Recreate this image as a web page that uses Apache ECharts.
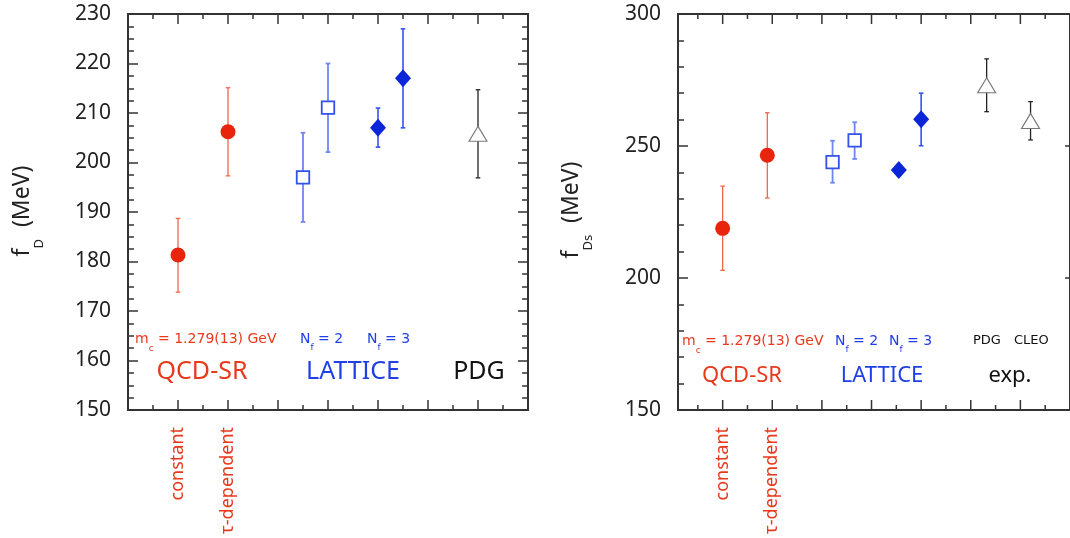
<!DOCTYPE html>
<html>
<head>
<meta charset="utf-8">
<script src="https://cdn.jsdelivr.net/npm/echarts@6.0.0/dist/echarts.min.js"></script>
<style>
  html, body { margin: 0; padding: 0; background: #fff; }
  #main { width: 1070px; height: 538px; }
</style>
</head>
<body>
<div id="main"></div>
<script>
var FONT = '"Noto Sans", sans-serif';
var SMALLFONT = '"DejaVu Sans", sans-serif';
var RED = '#e8391c', BLUE = '#2040e6', DARK = '#222';

// f_D panel (left)
var dX    = [2, 4, 7, 8, 10, 11, 14];
var dVal  = [181.3, 206.2, 197.0, 211.1, 207.0, 217.0, 205.8];
var dLow  = [173.8, 197.3, 188.0, 202.1, 203.1, 207.0, 196.9];
var dHigh = [188.7, 215.1, 206.0, 220.0, 211.0, 227.0, 214.7];
var dKind = ['sr', 'sr', 'nf2', 'nf2', 'nf3', 'nf3', 'exp'];

// f_Ds panel (right)
var sX    = [2, 3.8, 6.43, 7.32, 9.1, 10, 12.64, 14.41];
var sVal  = [218.8, 246.5, 243.9, 252.1, 240.9, 260.1, 273.0, 259.5];
var sLow  = [202.9, 230.3, 236.1, 245.1, 239.4, 250.1, 263.0, 252.3];
var sHigh = [234.8, 262.6, 252.0, 259.0, 242.4, 270.0, 283.0, 266.8];
var sKind = ['sr', 'sr', 'nf2', 'nf2', 'nf3', 'nf3', 'exp', 'exp'];

// x tick positions (top and bottom frame) and rotated labels at x = 2, 4
var xMajorTicks = [2, 4, 6, 8, 10, 12, 14];
var xMinorTicks = [1, 3, 5, 7, 9, 11, 13, 15];
var methodLabels = ['constant', 'τ-dependent'];

// marker / error bar look for each group
var kinds = {
    sr:  { symbol: 'circle',   size: 15,      fill: '#e8250c', border: '#e8250c', bw: 0,   bar: '#f0654e', barW: 1.3 },
    nf2: { symbol: 'rect',     size: 12.5,    fill: '#fff',    border: '#3352e8', bw: 1.8, bar: '#6d86f2', barW: 1.8 },
    nf3: { symbol: 'diamond',  size: [16, 18], fill: '#0b26d8', border: '#0b26d8', bw: 0,   bar: '#3553ea', barW: 1.6 },
    exp: { symbol: 'triangle', size: [18, 15], fill: '#fff',    border: '#777',    bw: 1.1, bar: '#222',    barW: 1.3 }
};

var chart = echarts.init(document.getElementById('main'));

// vertical error bar with small caps
function errorBar(width) {
    return function (params, api) {
        var x = api.value(0);
        var lo = api.coord([x, api.value(1)]);
        var hi = api.coord([x, api.value(2)]);
        var c = api.visual('color');
        var st = { stroke: c, lineWidth: width };
        return {
            type: 'group',
            children: [
                { type: 'line', shape: { x1: lo[0], y1: lo[1], x2: hi[0], y2: hi[1] }, style: st },
                { type: 'line', shape: { x1: lo[0] - 2.3, y1: lo[1], x2: lo[0] + 2.3, y2: lo[1] }, style: st },
                { type: 'line', shape: { x1: hi[0] - 2.3, y1: hi[1], x2: hi[0] + 2.3, y2: hi[1] }, style: st }
            ]
        };
    };
}

// inward tick marks on the bottom and top frame, placed through the x scale
function tickSeries(gi, yMin, yMax) {
    var data = [];
    xMajorTicks.forEach(function (v) { data.push([v, yMin, yMax, 10]); });
    xMinorTicks.forEach(function (v) { data.push([v, yMin, yMax, 5]); });
    return {
        type: 'custom',
        xAxisIndex: gi * 2,
        yAxisIndex: gi * 2,
        data: data,
        encode: { x: 0, y: [1, 2] },
        silent: true,
        clip: false,
        renderItem: function (params, api) {
            var b = api.coord([api.value(0), api.value(1)]);
            var t = api.coord([api.value(0), api.value(2)]);
            var len = api.value(3);
            var st = { stroke: '#333', lineWidth: 1.5 };
            return {
                type: 'group',
                children: [
                    { type: 'line', shape: { x1: b[0], y1: b[1], x2: b[0], y2: b[1] - len }, style: st },
                    { type: 'line', shape: { x1: t[0], y1: t[1], x2: t[0], y2: t[1] + len }, style: st }
                ]
            };
        }
    };
}

function buildSeries(xs, vals, lows, highs, kindArr, gi) {
    var out = [];
    Object.keys(kinds).forEach(function (k) {
        var err = [], pts = [];
        for (var i = 0; i < xs.length; i++) {
            if (kindArr[i] === k) {
                err.push([xs[i], lows[i], highs[i]]);
                pts.push([xs[i], vals[i]]);
            }
        }
        if (!pts.length) return;
        var s = kinds[k];
        out.push({
            type: 'custom',
            xAxisIndex: gi * 2,
            yAxisIndex: gi * 2,
            data: err,
            encode: { x: 0, y: [1, 2] },
            renderItem: errorBar(s.barW),
            itemStyle: { color: s.bar },
            silent: true
        });
        out.push({
            type: 'scatter',
            xAxisIndex: gi * 2,
            yAxisIndex: gi * 2,
            data: pts,
            symbol: s.symbol,
            symbolSize: s.size,
            itemStyle: { color: s.fill, borderColor: s.border, borderWidth: s.bw, opacity: 1 },
            silent: true
        });
    });
    return out;
}

var axisLine = { show: true, onZero: false, lineStyle: { color: '#333', width: 2 } };
var tickLine = { color: '#333', width: 1.5 };

// bottom + top x axis (frame lines and the two rotated labels)
function xAxes(gi, min, max) {
    function ax(pos, labels) {
        var a = {
            type: 'value', gridIndex: gi, position: pos, min: min, max: max,
            axisLine: axisLine,
            axisTick: { show: false },
            minorTick: { show: false },
            axisLabel: labels ? {
                show: true, rotate: 90, margin: 17, showMinLabel: false, showMaxLabel: false,
                color: RED, fontSize: 18, fontFamily: FONT,
                formatter: function (v) {
                    return v === 2 ? methodLabels[0] : (v === 4 ? methodLabels[1] : '');
                }
            } : { show: false },
            splitLine: { show: false }
        };
        if (min === 0) a.interval = 2;
        else a.splitNumber = 8;
        return a;
    }
    return [ax('bottom', true), ax('top', false)];
}

function yAxes(gi, min, max, interval, minorSplit, rightMinor) {
    return [{
        type: 'value', gridIndex: gi, position: 'left', min: min, max: max, interval: interval,
        axisLine: axisLine,
        axisTick: { show: true, inside: true, length: 10, lineStyle: tickLine },
        minorTick: { show: true, splitNumber: minorSplit, length: 6, lineStyle: tickLine },
        axisLabel: { show: true, margin: 17, color: DARK, fontSize: 21, fontFamily: FONT },
        splitLine: { show: false }
    }, {
        type: 'value', gridIndex: gi, position: 'right', min: min, max: max, interval: interval,
        axisLine: axisLine,
        axisTick: { show: true, inside: true, length: rightMinor ? 10 : 5, lineStyle: tickLine },
        minorTick: { show: rightMinor, splitNumber: minorSplit, length: 6, lineStyle: tickLine },
        axisLabel: { show: false },
        splitLine: { show: false }
    }];
}

function txt(x, y, text, color, size, align, rich, font) {
    return {
        type: 'text', x: x, y: y, silent: true,
        style: {
            text: text, fill: color, fontSize: size, fontFamily: font || FONT,
            align: align || 'left', verticalAlign: 'middle', rich: rich
        }
    };
}

function subRich(color, size, subSize, pad, font) {
    return {
        m: { color: color, fontSize: size, fontFamily: font },
        s: { color: color, fontSize: subSize, fontFamily: font, padding: [pad, 0, 0, 0] }
    };
}

var small = subRich(RED, 14, 9, 20, SMALLFONT);
var smallB = subRich(BLUE, 14, 9, 18, SMALLFONT);

function yName(x, y, sub) {
    var t = txt(0, 0, '{m|f}{s|' + sub + '}{m|  (MeV)}', DARK, 23, 'center', subRich(DARK, 23, 13, 34, FONT));
    t.x = x; t.y = y; t.rotation = Math.PI / 2;
    return t;
}

var graphics = [
    // left panel
    txt(135, 339, '{m|m}{s|c}{m| = 1.279(13) GeV}', RED, 14, 'left', small, SMALLFONT),
    txt(300, 339, '{m|N}{s|f}{m| = 2}', BLUE, 14, 'left', smallB, SMALLFONT),
    txt(367, 339, '{m|N}{s|f}{m| = 3}', BLUE, 14, 'left', smallB, SMALLFONT),
    txt(202, 372, 'QCD-SR', RED, 25, 'center'),
    txt(353, 372, 'LATTICE', BLUE, 25, 'center'),
    txt(479, 372, 'PDG', '#111', 25, 'center'),
    yName(22, 211, 'D'),
    // right panel
    txt(682, 341, '{m|m}{s|c}{m| = 1.279(13) GeV}', RED, 14, 'left', small, SMALLFONT),
    txt(835, 341, '{m|N}{s|f}{m| = 2}', BLUE, 14, 'left', smallB, SMALLFONT),
    txt(889, 341, '{m|N}{s|f}{m| = 3}', BLUE, 14, 'left', smallB, SMALLFONT),
    txt(973, 341, 'PDG', '#111', 13, 'left', null, SMALLFONT),
    txt(1014, 341, 'CLEO', '#111', 13, 'left', null, SMALLFONT),
    txt(742, 376, 'QCD-SR', RED, 22, 'center'),
    txt(882, 376, 'LATTICE', BLUE, 22, 'center'),
    txt(1010, 376, 'exp.', '#111', 22, 'center'),
    yName(571, 210, 'Ds')
];

var option = {
    backgroundColor: '#fff',
    animation: false,
    grid: [
        { left: 128, top: 14, width: 400, height: 396 },
        { left: 678, top: 14, width: 394, height: 396 }
    ],
    xAxis: xAxes(0, 0, 16).concat(xAxes(1, 0.2, 16)),
    yAxis: yAxes(0, 150, 230, 10, 4, true).concat(yAxes(1, 150, 300, 50, 5, false)),
    series: [tickSeries(0, 150, 230), tickSeries(1, 150, 300)]
        .concat(buildSeries(dX, dVal, dLow, dHigh, dKind, 0))
        .concat(buildSeries(sX, sVal, sLow, sHigh, sKind, 1)),
    graphic: graphics
};

chart.setOption(option);
</script>
</body>
</html>
